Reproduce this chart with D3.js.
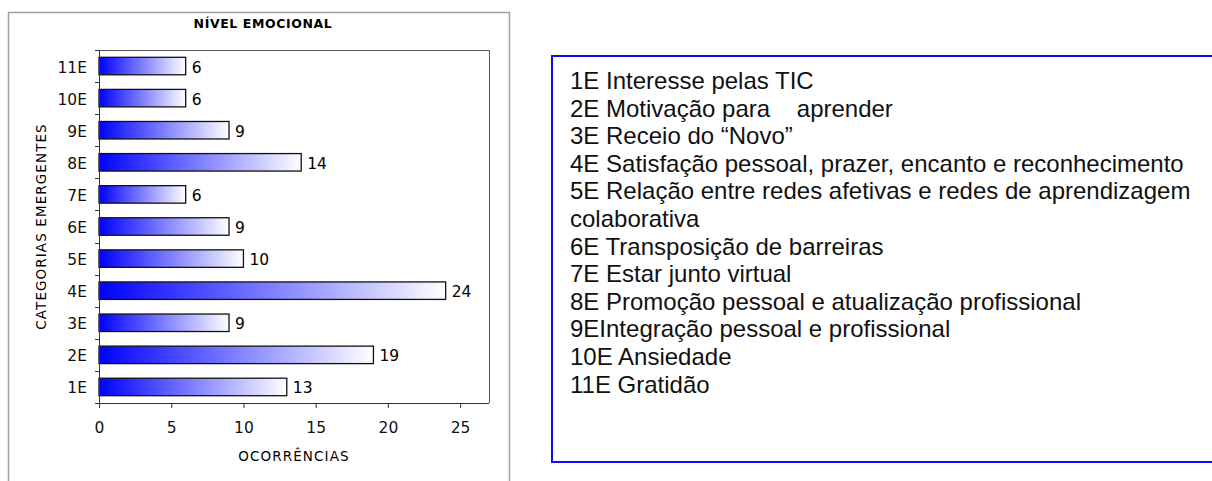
<script src="https://d3js.org/d3.v7.min.js"></script>
<style>
body { margin: 0; background: #fff; }
</style>
<body>
</body>
<script>
// data
var categories = ["1E","2E","3E","4E","5E","6E","7E","8E","9E","10E","11E"];
var values = [13, 19, 9, 24, 10, 9, 6, 14, 9, 6, 6];
var xTicks = [0, 5, 10, 15, 20, 25];
var legendLines = [
  "1E Interesse pelas TIC",
  "2E Motivação para    aprender",
  "3E Receio do \u201CNovo\u201D",
  "4E Satisfação pessoal, prazer, encanto e reconhecimento",
  "5E Relação entre redes afetivas e redes de aprendizagem",
  "colaborativa",
  "6E Transposição de barreiras",
  "7E Estar junto virtual",
  "8E Promoção pessoal e atualização profissional",
  "9EIntegração pessoal e profissional",
  "10E Ansiedade",
  "11E Gratidão"
];

const W = 1212, H = 481;
const font = "'DejaVu Sans', Verdana, sans-serif";

const svg = d3.select("body").append("svg")
  .attr("width", W).attr("height", H);

// gradient for the bars
var grad = svg.append("defs").append("linearGradient")
  .attr("id", "barGrad").attr("x1", 0).attr("x2", 1).attr("y1", 0).attr("y2", 0);
grad.append("stop").attr("offset", "0%").attr("stop-color", "#0000ff");
grad.append("stop").attr("offset", "100%").attr("stop-color", "#ffffff");

// outer chart frame
svg.append("path")
  .attr("d", "M8.5,490 L8.5,12.5 L509.5,12.5 L509.5,490")
  .attr("fill", "none").attr("stroke", "#a0a0a0").attr("stroke-width", 1.5);

const pLeft = 99, pRight = 489, pTop = 50, pBottom = 403;

var x = d3.scaleLinear().domain([0, 27]).range([pLeft, pRight]);
var y = d3.scaleBand().domain(categories).range([pBottom, pTop])
  .paddingInner(0.455).paddingOuter(0.2275);

// plot frame top + right
svg.append("path")
  .attr("d", `M${pLeft},${pTop + 0.5} L${pRight + 0.5},${pTop + 0.5} L${pRight + 0.5},${pBottom}`)
  .attr("fill", "none").attr("stroke", "#555").attr("stroke-width", 1);

// title
svg.append("text")
  .attr("x", 263).attr("y", 28)
  .attr("text-anchor", "middle")
  .style("font-family", font).style("font-weight", "bold")
  .style("font-size", "12.5px").style("letter-spacing", "0.6px")
  .text("NÍVEL EMOCIONAL");

// bars
svg.selectAll("rect.bar")
  .data(values)
  .enter()
  .append("rect")
  .attr("class", "bar")
  .attr("x", x(0))
  .attr("y", (d, i) => y(categories[i]))
  .attr("width", d => x(d) - x(0))
  .attr("height", y.bandwidth())
  .attr("fill", "url(#barGrad)")
  .attr("stroke", "#111").attr("stroke-width", 1.3);

// value labels
svg.selectAll("text.val")
  .data(values)
  .enter()
  .append("text")
  .attr("class", "val")
  .attr("x", d => x(d) + 6)
  .attr("y", (d, i) => y(categories[i]) + y.bandwidth() / 2 + 6.5)
  .style("font-family", font).style("font-size", "15.5px")
  .text(d => d);

// x axis
var xAxis = svg.append("g")
  .attr("transform", `translate(0,${pBottom})`)
  .call(d3.axisBottom(x).tickValues(xTicks).tickSize(5).tickPadding(14).tickSizeOuter(0));
xAxis.select(".domain").attr("stroke", "#333");
xAxis.selectAll(".tick line").attr("stroke", "#333");
xAxis.selectAll(".tick text")
  .style("font-family", font).style("font-size", "15.5px").attr("fill", "#111");
xAxis.select(".domain").attr("d", `M${pLeft - 4},0.5H${pRight}`);

// y axis
var yAxis = svg.append("g")
  .attr("transform", `translate(${pLeft},0)`)
  .call(d3.axisLeft(y).tickSize(0).tickPadding(12).tickSizeOuter(0));
yAxis.select(".domain").attr("stroke", "#333").attr("d", `M0.5,${pTop}V${pBottom + 5}`);
yAxis.selectAll(".tick text")
  .attr("dy", "0.42em")
  .style("font-family", font).style("font-size", "15.5px").attr("fill", "#111");

// y tick marks between categories
var step = y.step();
var bounds = categories.map(c => y(c) - step * y.paddingInner() / 2);
bounds.push(pTop);
svg.selectAll("line.ytick")
  .data(bounds)
  .enter()
  .append("line")
  .attr("class", "ytick")
  .attr("x1", pLeft - 4).attr("x2", pLeft)
  .attr("y1", d => Math.round(d) + 0.5).attr("y2", d => Math.round(d) + 0.5)
  .attr("stroke", "#333");

// axis titles
svg.append("text")
  .attr("x", 294).attr("y", 461)
  .attr("text-anchor", "middle")
  .style("font-family", font).style("font-size", "13.5px").style("letter-spacing", "1.1px")
  .text("OCORRÊNCIAS");

svg.append("text")
  .attr("transform", `translate(46,${(pTop + pBottom) / 2}) rotate(-90)`)
  .attr("text-anchor", "middle")
  .style("font-family", font).style("font-size", "13.5px").style("letter-spacing", "1.1px")
  .text("CATEGORIAS EMERGENTES");

// legend box on the right
svg.append("rect")
  .attr("x", 552).attr("y", 56)
  .attr("width", 680).attr("height", 406)
  .attr("fill", "none").attr("stroke", "#0a0aff").attr("stroke-width", 2);

svg.selectAll("text.leg")
  .data(legendLines)
  .enter()
  .append("text")
  .attr("class", "leg")
  .attr("x", 570)
  .attr("y", (d, i) => 89 + i * 27.6)
  .attr("xml:space", "preserve")
  .style("white-space", "pre")
  .style("font-family", "'Liberation Sans', Arial, sans-serif")
  .style("font-size", "24px")
  .attr("fill", "#111")
  .text(d => d);
</script>
